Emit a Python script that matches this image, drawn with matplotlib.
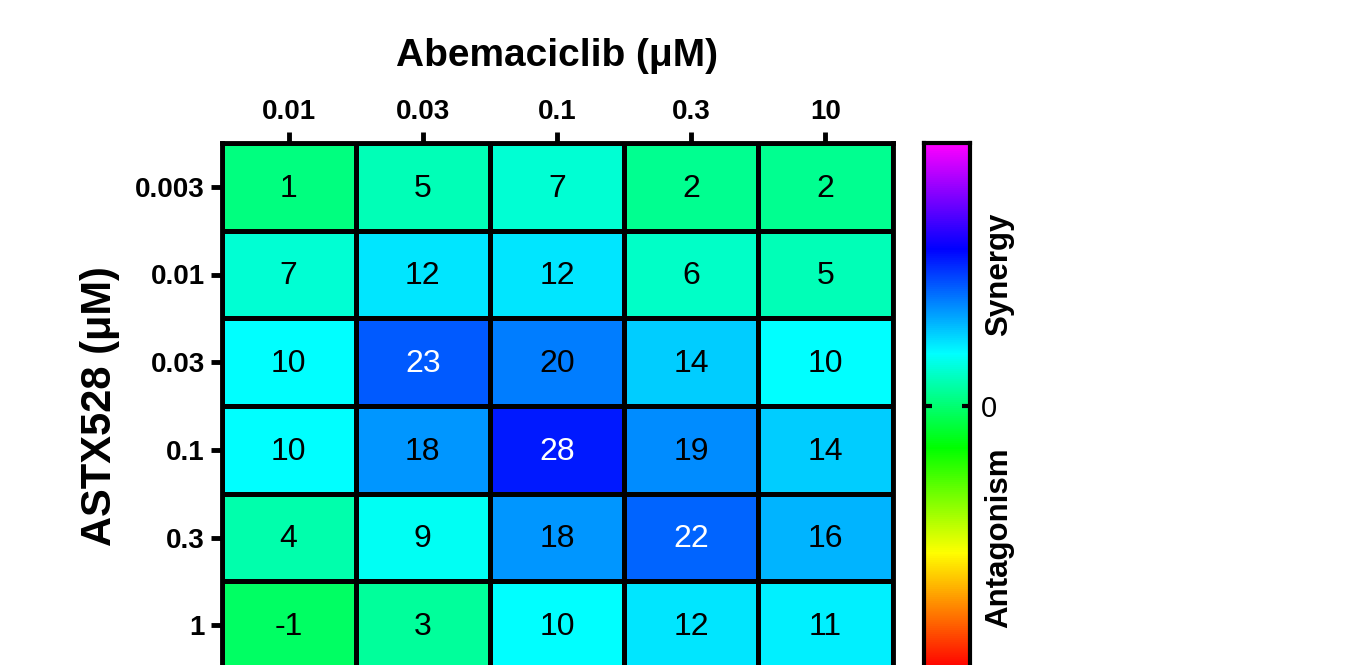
import numpy as np
import matplotlib
matplotlib.use("Agg")
import matplotlib.pyplot as plt
from matplotlib.colors import LinearSegmentedColormap, Normalize

plt.rcParams['font.family'] = ['Liberation Sans', 'DejaVu Sans']

# Combination synergy scores
abemaciclib = ["0.01", "0.03", "0.1", "0.3", "10"]
astx528 = ["0.003", "0.01", "0.03", "0.1", "0.3", "1"]
scores = [
    [1, 5, 7, 2, 2],
    [7, 12, 12, 6, 5],
    [10, 23, 20, 14, 10],
    [10, 18, 28, 19, 14],
    [4, 9, 18, 22, 16],
    [-1, 3, 10, 12, 11],
]
vmin, vmax = -50, 50

cmap = LinearSegmentedColormap.from_list(
    "synergy",
    [(0.00, (1.0, 0.0, 0.0)),
     (0.22, (1.0, 1.0, 0.0)),
     (0.42, (0.0, 1.0, 0.0)),
     (0.60, (0.0, 1.0, 1.0)),
     (0.80, (0.0, 0.0, 1.0)),
     (1.00, (1.0, 0.0, 1.0))],
)
norm = Normalize(vmin=vmin, vmax=vmax)

W, H = 1360, 665
fig = plt.figure(figsize=(W / 100, H / 100), dpi=100)

def px_axes(x0, y0, x1, y1):
    return fig.add_axes([x0 / W, 1 - y1 / H, (x1 - x0) / W, (y1 - y0) / H])

ax = px_axes(221.5, 143, 892.5, 669)
data = np.array(scores)
nrow, ncol = data.shape
ax.pcolormesh(np.arange(ncol + 1), np.arange(nrow + 1), data, cmap=cmap, norm=norm,
              edgecolors='black', linewidth=2.4)
ax.set_xlim(0, ncol)
ax.set_ylim(nrow, 0)

for i in range(nrow):
    for j in range(ncol):
        v = data[i, j]
        ax.text(j + 0.5, i + 0.52, f"{v}", ha='center', va='center', fontsize=23,
                color='white' if v > 21 else 'black')

ax.xaxis.tick_top()
ax.set_xticks(np.arange(ncol) + 0.5)
ax.set_xticklabels(abemaciclib, fontweight='bold')
ax.set_yticks(np.arange(nrow) + 0.5)
ax.set_yticklabels(astx528, fontweight='bold')
ax.tick_params(axis='both', direction='out', length=8, width=3.5, labelsize=20, pad=4)
ax.tick_params(axis='x', pad=5)
for s in ax.spines.values():
    s.set_linewidth(3.5)

ax.xaxis.set_label_position('top')
ax.set_xlabel("Abemaciclib (μM)", fontsize=28, fontweight='bold', labelpad=24)
ax.set_ylabel("ASTX528 (μM)", fontsize=30, fontweight='bold', labelpad=11)

# Colour scale
cax = px_axes(923.5, 143, 969.5, 669)
grad = np.linspace(vmin, vmax, 512).reshape(-1, 1)
cax.imshow(grad, aspect='auto', cmap=cmap, norm=norm, origin='lower',
           extent=[0, 1, vmin, vmax])
cax.set_xticks([])
cax.set_yticks([0])
cax.set_yticklabels(["0"])
cax.yaxis.tick_right()
cax.tick_params(axis='y', direction='in', length=6, width=3, labelsize=21, pad=8,
                left=True, right=True)
for s in cax.spines.values():
    s.set_linewidth(3)

cax.text(1.0 + 30 / 46, 25, "Synergy", rotation=90, ha='center', va='center',
         fontsize=22.5, fontweight='bold', transform=cax.transData)
cax.text(1.0 + 30 / 46, -25, "Antagonism", rotation=90, ha='center', va='center',
         fontsize=22.5, fontweight='bold', transform=cax.transData)

fig.savefig("out.png", dpi=100)
